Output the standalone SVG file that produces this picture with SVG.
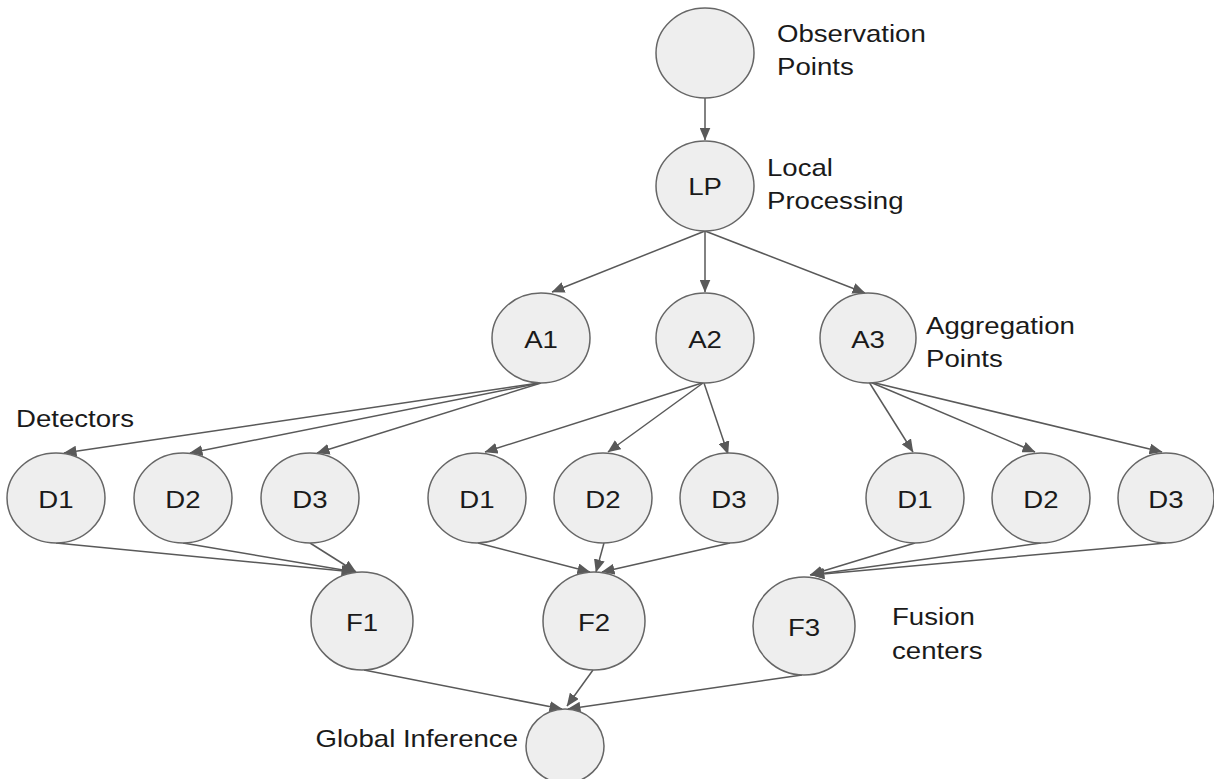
<svg xmlns="http://www.w3.org/2000/svg" width="1214" height="779" viewBox="0 0 1214 779">
<style>
.n{fill:#eeeeee;stroke:#666666;stroke-width:1.5}
.t{font-family:"Liberation Sans",Arial,sans-serif;font-size:24px;fill:#1a1a1a}
.c{stroke:#595959;stroke-width:1.5;fill:none;marker-end:url(#ah)}
</style>
<defs>
<marker id="ah" markerUnits="userSpaceOnUse" markerWidth="13" markerHeight="11" viewBox="0 0 13 11" refX="12.5" refY="5.5" orient="auto">
<path d="M0,0 L13,5.5 L0,11 z" fill="#595959"/>
</marker>
</defs>
<rect width="1214" height="779" fill="#ffffff"/>
<g id="connectors">
<line class="c" x1="705" y1="98" x2="705" y2="140"/>
<line class="c" x1="705" y1="231" x2="552" y2="292"/>
<line class="c" x1="705" y1="231" x2="705" y2="292"/>
<line class="c" x1="705" y1="231" x2="865" y2="293"/>
<line class="c" x1="539" y1="383" x2="64" y2="453"/>
<line class="c" x1="540" y1="383" x2="190" y2="453"/>
<line class="c" x1="541" y1="383" x2="317" y2="453"/>
<line class="c" x1="702" y1="383" x2="485" y2="452"/>
<line class="c" x1="703" y1="383" x2="608" y2="452"/>
<line class="c" x1="704" y1="383" x2="728" y2="454"/>
<line class="c" x1="869" y1="382" x2="913" y2="452"/>
<line class="c" x1="870" y1="382" x2="1035" y2="452"/>
<line class="c" x1="871" y1="382" x2="1162" y2="452"/>
<line class="c" x1="56" y1="543" x2="354" y2="572"/>
<line class="c" x1="183" y1="543" x2="355" y2="572"/>
<line class="c" x1="310" y1="543" x2="356" y2="572"/>
<line class="c" x1="478" y1="543" x2="590" y2="572"/>
<line class="c" x1="604" y1="543" x2="596" y2="572"/>
<line class="c" x1="730" y1="543" x2="602" y2="572"/>
<line class="c" x1="915" y1="543" x2="810" y2="575"/>
<line class="c" x1="1041" y1="543" x2="811" y2="575"/>
<line class="c" x1="1166" y1="543" x2="812" y2="575"/>
<line class="c" x1="364" y1="670" x2="562" y2="709"/>
<line class="c" x1="593" y1="670" x2="567" y2="706"/>
<line class="c" x1="802" y1="675" x2="568" y2="709"/>
</g>
<g id="obs"><ellipse class="n" cx="705" cy="53" rx="49" ry="45"/></g>
<g id="lp"><ellipse class="n" cx="705" cy="186" rx="49" ry="45"/><text class="t" text-anchor="middle" transform="translate(705,195) scale(1.15,1)">LP</text></g>
<g id="a1"><ellipse class="n" cx="541" cy="338" rx="49" ry="45"/><text class="t" text-anchor="middle" transform="translate(541,348) scale(1.15,1)">A1</text></g>
<g id="a2"><ellipse class="n" cx="705" cy="338" rx="49" ry="45"/><text class="t" text-anchor="middle" transform="translate(705,348) scale(1.15,1)">A2</text></g>
<g id="a3"><ellipse class="n" cx="868" cy="338" rx="48" ry="45"/><text class="t" text-anchor="middle" transform="translate(868,348) scale(1.15,1)">A3</text></g>
<g id="d1a"><ellipse class="n" cx="56" cy="498" rx="49" ry="45"/><text class="t" text-anchor="middle" transform="translate(56,508) scale(1.15,1)">D1</text></g>
<g id="d2a"><ellipse class="n" cx="183" cy="498" rx="49" ry="45"/><text class="t" text-anchor="middle" transform="translate(183,508) scale(1.15,1)">D2</text></g>
<g id="d3a"><ellipse class="n" cx="310" cy="498" rx="49" ry="45"/><text class="t" text-anchor="middle" transform="translate(310,508) scale(1.15,1)">D3</text></g>
<g id="d1b"><ellipse class="n" cx="477" cy="498" rx="49" ry="45"/><text class="t" text-anchor="middle" transform="translate(477,508) scale(1.15,1)">D1</text></g>
<g id="d2b"><ellipse class="n" cx="603" cy="498" rx="49" ry="45"/><text class="t" text-anchor="middle" transform="translate(603,508) scale(1.15,1)">D2</text></g>
<g id="d3b"><ellipse class="n" cx="729" cy="498" rx="49" ry="45"/><text class="t" text-anchor="middle" transform="translate(729,508) scale(1.15,1)">D3</text></g>
<g id="d1c"><ellipse class="n" cx="915" cy="498" rx="49" ry="45"/><text class="t" text-anchor="middle" transform="translate(915,508) scale(1.15,1)">D1</text></g>
<g id="d2c"><ellipse class="n" cx="1041" cy="498" rx="49" ry="45"/><text class="t" text-anchor="middle" transform="translate(1041,508) scale(1.15,1)">D2</text></g>
<g id="d3c"><ellipse class="n" cx="1166" cy="498" rx="48" ry="45"/><text class="t" text-anchor="middle" transform="translate(1166,508) scale(1.15,1)">D3</text></g>
<g id="f1"><ellipse class="n" cx="362" cy="621" rx="51" ry="49"/><text class="t" text-anchor="middle" transform="translate(362,631) scale(1.15,1)">F1</text></g>
<g id="f2"><ellipse class="n" cx="594" cy="621" rx="51" ry="49"/><text class="t" text-anchor="middle" transform="translate(594,631) scale(1.15,1)">F2</text></g>
<g id="f3"><ellipse class="n" cx="804" cy="626" rx="51" ry="49"/><text class="t" text-anchor="middle" transform="translate(804,636) scale(1.15,1)">F3</text></g>
<g id="global"><ellipse class="n" cx="565" cy="746" rx="39" ry="37"/></g>
<g id="labels">
<text class="t" transform="translate(777,42) scale(1.15,1)">Observation</text>
<text class="t" transform="translate(777,75) scale(1.15,1)">Points</text>
<text class="t" transform="translate(767,176) scale(1.15,1)">Local</text>
<text class="t" transform="translate(767,209) scale(1.15,1)">Processing</text>
<text class="t" transform="translate(926,334) scale(1.15,1)">Aggregation</text>
<text class="t" transform="translate(926,367) scale(1.15,1)">Points</text>
<text class="t" transform="translate(16,427) scale(1.15,1)">Detectors</text>
<text class="t" transform="translate(892,625) scale(1.15,1)">Fusion</text>
<text class="t" transform="translate(892,659) scale(1.15,1)">centers</text>
<text class="t" text-anchor="end" transform="translate(518,747) scale(1.15,1)">Global Inference</text>
</g>
</svg>
